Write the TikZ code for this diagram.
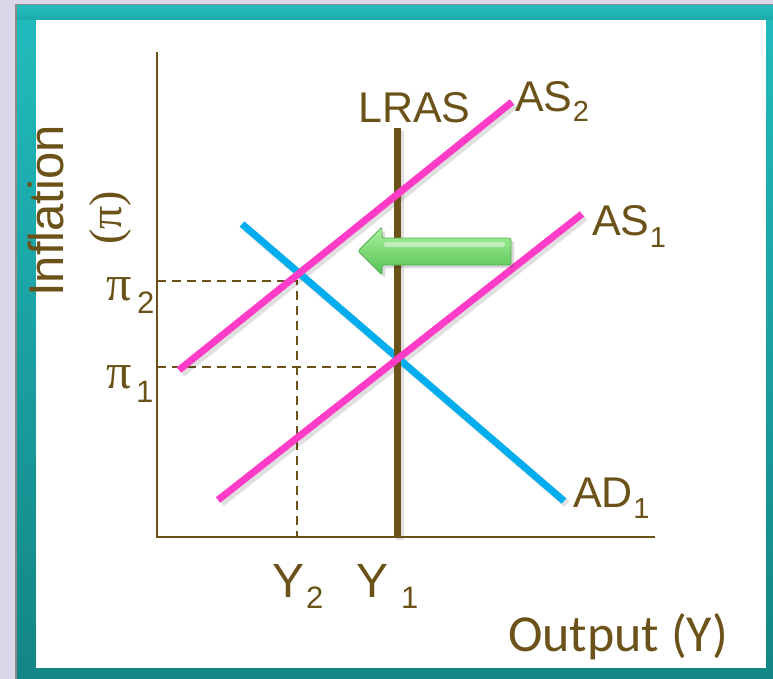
\documentclass[tikz,border=0pt]{standalone}
\usepackage{fontspec}
\setmainfont{Liberation Sans}
\newfontfamily\pifont{Liberation Serif}
\newfontfamily\outfont{Carlito}
\definecolor{bgc}{HTML}{DCD8EA}
\definecolor{brownc}{HTML}{6B5219}
\definecolor{magentac}{HTML}{FF3CC8}
\definecolor{cyanc}{HTML}{00AEEF}
\definecolor{frametop}{HTML}{22BCBE}
\definecolor{framebot}{HTML}{138585}
\definecolor{framehi}{HTML}{6AF4F4}
\definecolor{greenhi}{HTML}{ACF2A0}
\definecolor{greenlo}{HTML}{52C250}
\definecolor{greenedge}{HTML}{5AAE58}
\tikzset{
  curve/.style={line width=7pt, line cap=butt},
  shadowline/.style={line width=8pt, black, opacity=0.12, line cap=butt},
  guide/.style={brownc, line width=2.6pt, dash pattern=on 9pt off 6pt},
  lbl/.style={text=brownc, inner sep=0pt, font=\fontsize{43}{43}\selectfont},
}
\begin{document}
\begin{tikzpicture}[x=1pt,y=-1pt]
\useasboundingbox (0,0) rectangle (773,679);
\fill[bgc] (0,0) rectangle (773,679);
% frame
\fill[black!45] (15,4) rectangle (773,679);
\shade[top color=frametop, bottom color=framebot] (17,6) rectangle (773,679);
\shade[top color=frametop, middle color=framehi, bottom color=frametop!90!black] (17,6) rectangle (773,20);
\fill[white] (36,20) rectangle (766,668);

% coordinates
\coordinate (ytop) at (157,52);
\coordinate (origin) at (157,537);
\coordinate (xend) at (655,537);
\coordinate (lrasT) at (397,128);
\coordinate (lrasB) at (397,537);
\coordinate (as2a) at (179,370);
\coordinate (as2b) at (512,102);
\coordinate (as1a) at (218,500);
\coordinate (as1b) at (582,214);
\coordinate (ada) at (242,224);
\coordinate (adb) at (564,501);
\coordinate (p2y) at (157,281);
\coordinate (e2) at (297,281);
\coordinate (y2x) at (297,537);
\coordinate (p1y) at (157,367);
\coordinate (e1) at (397,367);

% dashed guides
\draw[guide] (p2y) -- (e2) -- (y2x);
\draw[guide] (p1y) -- (e1);

% shadows
\draw[shadowline] ([shift={(3,3)}]lrasT) -- ([shift={(3,3)}]lrasB);
\draw[shadowline] ([shift={(3,3)}]as2a) -- ([shift={(3,3)}]as2b);
\draw[shadowline] ([shift={(3,3)}]as1a) -- ([shift={(3,3)}]as1b);
\draw[shadowline] ([shift={(3,3)}]ada) -- ([shift={(3,3)}]adb);

% axes
\draw[brownc, line width=2.4pt] (ytop) -- (origin) -- (xend);

% curves
\draw[curve, cyanc] (ada) -- (adb);
\draw[curve, brownc] (lrasT) -- (lrasB);
\draw[curve, magentac] (as2a) -- (as2b);
\draw[curve, magentac] (as1a) -- (as1b);

% green arrow
\fill[black, opacity=0.15, rounded corners=2pt]
  (514,241) -- (385,241) -- (385,230) -- (361,254) -- (385,278) -- (385,268) -- (514,268) -- cycle;
\shade[top color=greenhi, bottom color=greenlo, draw=greenedge, line width=0.8pt, rounded corners=2pt]
  (511,238) -- (382,238) -- (382,227) -- (358,251) -- (382,275) -- (382,265) -- (511,265) -- cycle;
\fill[white, opacity=0.45, rounded corners=2pt] (384,242) rectangle (505,247);

% labels
\node[lbl, anchor=base west] (lras) at (358,123) {LRAS};
\node[lbl, anchor=base west] (as2) at (515,112) {AS};
\node[lbl, anchor=base west, font=\fontsize{29}{29}\selectfont] (as2s) at (as2.base east) [yshift=-10pt] {2};
\node[lbl, anchor=base west] (as1) at (592,235) {AS};
\node[lbl, anchor=base west, font=\fontsize{29}{29}\selectfont] (as1s) at (as1.base east) [yshift=-12pt] {1};
\node[lbl, anchor=base west] (ad1) at (573,507) {AD};
\node[lbl, anchor=base west, font=\fontsize{29}{29}\selectfont] (ad1s) at (ad1.base east) [yshift=-11pt] {1};

\node[lbl, anchor=base west, font=\fontsize{48}{48}\selectfont] (y2) at (272,597) {Y};
\node[lbl, anchor=base west, font=\fontsize{31}{31}\selectfont] (y2s) at (306,608) {2};
\node[lbl, anchor=base west, font=\fontsize{48}{48}\selectfont] (y1) at (356,597) {Y};
\node[lbl, anchor=base west, font=\fontsize{31}{31}\selectfont] (y1s) at (401,608) {1};

\node[lbl, anchor=base west, font=\pifont\fontsize{50}{50}\selectfont] (pi2) at (106,300) {π};
\node[lbl, anchor=base west, font=\fontsize{31}{31}\selectfont] (pi2s) at (137,313) {2};
\node[lbl, anchor=base west, font=\pifont\fontsize{50}{50}\selectfont] (pi1) at (106,388) {π};
\node[lbl, anchor=base west, font=\fontsize{31}{31}\selectfont] (pi1s) at (136,402) {1};

\node[lbl, anchor=base, rotate=90, font=\fontsize{49}{49}\selectfont] (infl) at (63,211) {Inflation};
\node[lbl, anchor=base, rotate=90, font=\pifont\fontsize{46}{46}\selectfont] (pisym) at (121,218) {(π)};

\node[lbl, anchor=base west, font=\outfont\fontsize{52}{52}\selectfont] (out) at (508,651) {Output (Y)};
\end{tikzpicture}
\end{document}
